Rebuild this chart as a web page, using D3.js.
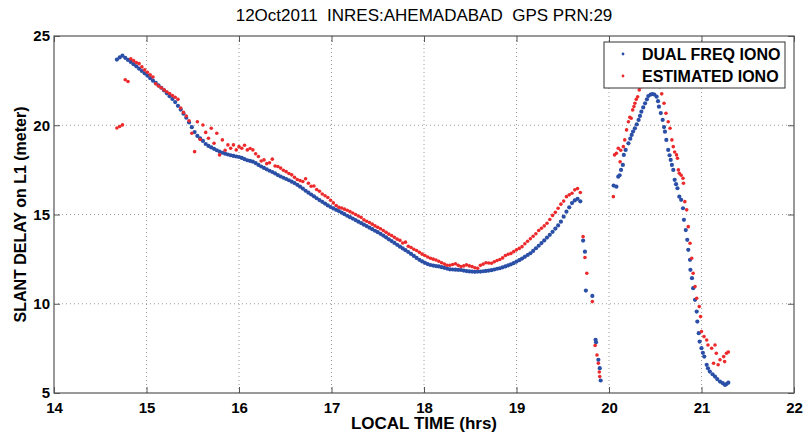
<!DOCTYPE html>
<html>
<head>
<meta charset="utf-8">
<script src="https://cdn.jsdelivr.net/npm/d3@7"></script>
<style>
  body { margin: 0; background: #fff; }
  svg { display: block; font-family: "Liberation Sans", Arial, Helvetica, sans-serif; }
  .tick text { font-size: 15px; font-weight: bold; fill: #000; }
  .tick line { stroke: #555; }
</style>
</head>
<body>
<svg id="chart" width="803" height="434"></svg>
<script>
// Slant ionospheric delay, 12 Oct 2011, Ahmedabad, PRN 29

const title = '12Oct2011  INRES:AHEMADABAD  GPS PRN:29';
const xTicks = [14, 15, 16, 17, 18, 19, 20, 21, 22];
const yTicks = [5, 10, 15, 20, 25];
const seriesNames = ['DUAL FREQ IONO', 'ESTIMATED IONO'];

// common epochs of the long pass (local time, hrs)
const epochs = [
  14.68,14.71,14.74,14.77,14.80,14.83,14.86,14.89,14.92,14.95,
  14.98,15.01,15.04,15.07,15.10,15.13,15.16,15.19,15.22,15.25,
  15.28,15.31,15.34,15.37,15.40,15.43,15.46,15.49,15.52,15.55,
  15.58,15.61,15.64,15.67,15.70,15.73,15.76,15.79,15.82,15.85,
  15.88,15.91,15.94,15.97,16.00,16.03,16.06,16.09,16.12,16.15,
  16.18,16.21,16.24,16.27,16.30,16.33,16.36,16.39,16.42,16.45,
  16.48,16.51,16.54,16.57,16.60,16.63,16.66,16.69,16.72,16.75,
  16.78,16.81,16.84,16.87,16.90,16.93,16.96,16.99,17.02,17.05,
  17.08,17.11,17.14,17.17,17.20,17.23,17.26,17.29,17.32,17.35,
  17.38,17.41,17.44,17.47,17.50,17.53,17.56,17.59,17.62,17.65,
  17.68,17.71,17.74,17.77,17.80,17.83,17.86,17.89,17.92,17.95,
  17.98,18.01,18.04,18.07,18.10,18.13,18.16,18.19,18.22,18.25,
  18.28,18.31,18.34,18.37,18.40,18.43,18.46,18.49,18.52,18.55,
  18.58,18.61,18.64,18.67,18.70,18.73,18.76,18.79,18.82,18.85,
  18.88,18.91,18.94,18.97,19.00,19.03,19.06,19.09,19.12,19.15,
  19.18,19.21,19.24,19.27,19.30,19.33,19.36,19.39,19.42,19.45,
  19.48,19.51,19.54,19.57,19.60,19.63,19.66,19.69
];

// dual frequency slant delay (m) at those epochs
const dualPass = [
  23.68,23.80,23.90,23.78,23.66,23.55,23.42,23.30,23.17,23.04,
  22.91,22.78,22.64,22.50,22.37,22.23,22.10,21.95,21.79,21.63,
  21.47,21.30,21.09,20.88,20.65,20.42,20.16,19.89,19.62,19.40,
  19.26,19.12,18.95,18.84,18.76,18.68,18.60,18.52,18.46,18.41,
  18.36,18.32,18.28,18.25,18.22,18.17,18.10,18.04,18.00,17.96,
  17.88,17.78,17.69,17.61,17.53,17.45,17.38,17.30,17.21,17.13,
  17.06,16.99,16.92,16.84,16.76,16.66,16.56,16.45,16.33,16.22,
  16.12,16.02,15.91,15.81,15.71,15.61,15.51,15.42,15.34,15.26,
  15.19,15.10,15.02,14.93,14.85,14.77,14.69,14.60,14.52,14.43,
  14.35,14.26,14.18,14.09,14.01,13.92,13.82,13.72,13.61,13.51,
  13.41,13.30,13.20,13.10,13.00,12.90,12.79,12.68,12.57,12.46,
  12.37,12.29,12.22,12.17,12.14,12.11,12.09,12.05,12.01,11.97,
  11.93,11.92,11.91,11.90,11.89,11.86,11.83,11.81,11.80,11.79,
  11.80,11.80,11.82,11.84,11.86,11.88,11.92,11.96,11.99,12.04,
  12.09,12.15,12.21,12.28,12.36,12.44,12.53,12.63,12.73,12.83,
  12.96,13.11,13.25,13.40,13.55,13.71,13.86,14.03,14.21,14.39,
  14.60,14.88,15.16,15.40,15.64,15.79,15.88,15.74
];

// estimated slant delay (m) at the same epochs
const estPass = [
  19.85,19.93,20.02,22.55,22.45,23.72,23.62,23.51,23.45,23.27,
  23.10,22.97,22.82,22.70,22.32,22.20,22.10,21.98,21.88,21.78,
  21.66,21.57,21.45,20.97,20.72,20.52,20.25,19.55,18.52,20.20,
  19.20,20.01,19.60,19.27,19.83,18.99,19.55,18.34,19.18,18.60,
  18.90,18.71,18.90,18.62,18.80,18.71,18.88,18.62,18.70,18.62,
  18.40,18.25,18.00,18.06,17.85,17.90,18.10,17.72,17.69,17.60,
  17.48,17.40,17.30,17.22,17.08,16.96,16.90,16.85,17.00,16.75,
  16.58,16.60,16.40,16.30,16.15,16.05,15.95,15.80,15.65,15.50,
  15.40,15.36,15.30,15.24,15.16,15.08,15.00,14.92,14.84,14.70,
  14.62,14.55,14.46,14.36,14.28,14.20,14.10,14.00,13.90,13.82,
  13.72,13.62,13.55,13.40,13.45,13.22,13.15,13.05,12.98,12.88,
  12.78,12.70,12.62,12.55,12.50,12.45,12.38,12.30,12.22,12.16,
  12.16,12.20,12.24,12.15,12.08,12.12,12.18,12.12,12.08,12.02,
  11.99,12.15,12.22,12.30,12.28,12.27,12.35,12.42,12.48,12.57,
  12.70,12.77,12.82,12.92,13.02,13.10,13.20,13.36,13.50,13.64,
  13.78,13.92,14.10,14.23,14.36,14.51,14.72,14.95,15.12,15.35,
  15.58,15.75,16.00,16.10,16.19,16.38,16.45,16.23
];

// after the data gap: [hrs, metres]
const dualTail = [
  [19.72,13.54],[19.74,12.92],[19.75,10.74],[19.82,10.44],[19.855,7.98],[19.86,7.84],
  [19.885,6.86],[19.90,6.39],[19.91,5.70],
  [20.05,16.62],[20.08,16.56],[20.10,17.12],[20.115,17.20],[20.13,17.50],[20.15,17.78],
  [20.16,18.34],[20.18,18.62],[20.21,18.99],[20.23,19.25],[20.245,19.46],[20.26,19.65],
  [20.28,19.83],[20.30,20.05],[20.32,20.30],[20.335,20.52],[20.35,20.76],[20.37,21.00],
  [20.39,21.23],[20.41,21.45],[20.425,21.64],[20.45,21.72],[20.47,21.75],[20.49,21.72],
  [20.515,21.60],[20.53,21.35],[20.54,21.04],[20.56,20.68],[20.58,20.30],[20.595,19.90],
  [20.605,19.64],[20.62,19.18],[20.64,18.62],[20.655,18.32],[20.667,18.06],[20.68,17.78],
  [20.695,17.50],[20.71,16.94],[20.725,16.70],[20.74,16.47],[20.76,16.00],[20.78,15.82],
  [20.80,15.35],[20.81,14.70],[20.83,14.13],[20.846,13.58],[20.857,13.02],[20.876,12.46],
  [20.88,11.90],[20.897,11.43],[20.91,10.87],[20.93,10.22],[20.948,9.56],[20.955,9.00],
  [20.97,8.35],[20.98,7.88],[21.00,7.51],[21.015,7.25],[21.03,7.04],[21.056,6.58],
  [21.07,6.38],[21.09,6.20],[21.12,6.05],[21.146,5.92],[21.17,5.78],[21.20,5.64],
  [21.23,5.55],[21.254,5.45],[21.27,5.50],[21.29,5.58]
];

const estTail = [
  [19.72,13.76],[19.74,12.59],[19.76,11.71],[19.82,10.12],[19.85,7.66],[19.87,7.13],
  [19.885,6.67],[19.895,6.18],[19.90,5.92],
  [20.047,16.00],[20.06,18.34],[20.08,18.43],[20.10,18.71],[20.12,17.95],[20.127,18.60],
  [20.155,18.80],[20.17,19.18],[20.19,19.74],[20.21,20.20],[20.225,20.45],[20.24,20.39],
  [20.256,20.86],[20.27,21.05],[20.28,21.23],[20.295,21.45],[20.31,21.60],[20.327,21.98],
  [20.35,22.16],[20.37,22.30],[20.39,22.45],[20.42,22.60],[20.45,22.70],[20.48,22.70],
  [20.51,22.60],[20.53,22.40],[20.55,22.16],[20.57,21.76],[20.595,21.23],[20.616,20.67],
  [20.64,20.20],[20.66,19.83],[20.68,19.18],[20.695,18.80],[20.71,18.50],[20.73,18.34],
  [20.74,18.15],[20.75,17.50],[20.76,17.31],[20.78,17.20],[20.80,17.03],[20.805,16.75],
  [20.82,15.72],[20.84,15.26],[20.857,14.32],[20.876,13.39],[20.894,12.55],[20.91,11.71],
  [20.93,10.96],[20.948,10.31],[20.976,9.84],[20.99,9.28],[21.00,8.44],[21.027,8.16],
  [21.056,7.97],[21.07,7.69],[21.11,7.51],[21.13,6.67],[21.146,7.69],[21.16,7.23],
  [21.18,6.58],[21.20,6.86],[21.24,7.04],[21.25,6.76],[21.27,7.23],[21.29,7.30]
];

const BLUE = '#2b4fa6';
const RED = '#ec2a2c';
const AXIS = '#555';

const svg = d3.select('#chart');
const x = d3.scaleLinear().domain([14, 22]).range([54, 794]);
const y = d3.scaleLinear().domain([5, 25]).range([393, 36]);
const [x0, x1] = x.range();
const [y1, y0] = y.range();

// dotted grid
const grid = svg.append('g').attr('stroke', '#9a9a9a').attr('stroke-dasharray', '1,3');
grid.selectAll('.gx').data(xTicks.slice(1, -1)).join('line')
  .attr('x1', d => x(d)).attr('x2', d => x(d))
  .attr('y1', y0).attr('y2', y1);
grid.selectAll('.gy').data(yTicks.slice(1, -1)).join('line')
  .attr('x1', x0).attr('x2', x1)
  .attr('y1', d => y(d)).attr('y2', d => y(d));

// axes — ticks pointing in, MATLAB box style
function styleAxis(g) {
  g.select('.domain').remove();
  g.selectAll('.tick line').attr('stroke', AXIS);
}
svg.append('g').attr('transform', `translate(0,${y1})`)
  .call(d3.axisBottom(x).tickValues(xTicks).tickSizeInner(-6).tickSizeOuter(0).tickPadding(9))
  .call(styleAxis);
svg.append('g').attr('transform', `translate(0,${y0})`)
  .call(d3.axisTop(x).tickValues(xTicks).tickSizeInner(-6).tickSizeOuter(0).tickFormat(''))
  .call(styleAxis);
svg.append('g').attr('transform', `translate(${x0},0)`)
  .call(d3.axisLeft(y).tickValues(yTicks).tickSizeInner(-6).tickSizeOuter(0).tickPadding(4))
  .call(styleAxis);
svg.append('g').attr('transform', `translate(${x1},0)`)
  .call(d3.axisRight(y).tickValues(yTicks).tickSizeInner(-6).tickSizeOuter(0).tickFormat(''))
  .call(styleAxis);

svg.append('rect')
  .attr('x', x0).attr('y', y0).attr('width', x1 - x0).attr('height', y1 - y0)
  .attr('fill', 'none').attr('stroke', AXIS).attr('stroke-width', 1.2);

// points
const dualPts = epochs.map((t, i) => [t, dualPass[i]]).concat(dualTail);
const estPts = epochs.map((t, i) => [t, estPass[i]]).concat(estTail);

svg.append('g').attr('fill', BLUE)
  .selectAll('circle').data(dualPts).join('circle')
  .attr('cx', d => x(d[0])).attr('cy', d => y(d[1])).attr('r', 2.1);
svg.append('g').attr('fill', RED)
  .selectAll('circle').data(estPts).join('circle')
  .attr('cx', d => x(d[0])).attr('cy', d => y(d[1])).attr('r', 1.8);

// labels
svg.append('text')
  .attr('x', (x0 + x1) / 2).attr('y', 21)
  .attr('text-anchor', 'middle')
  .style('font-size', '17px').style('white-space', 'pre')
  .text(title);

svg.append('text')
  .attr('x', (x0 + x1) / 2).attr('y', 429)
  .attr('text-anchor', 'middle')
  .style('font-size', '17px').style('font-weight', 'bold')
  .text('LOCAL TIME (hrs)');

svg.append('text')
  .attr('transform', `translate(26,${(y0 + y1) / 2}) rotate(-90)`)
  .attr('text-anchor', 'middle')
  .style('font-size', '16px').style('font-weight', 'bold')
  .text('SLANT DELAY on L1 (meter)');

// legend
const legend = svg.append('g').attr('transform', 'translate(604,42)');
legend.append('rect')
  .attr('width', 181).attr('height', 46)
  .attr('fill', '#fff').attr('stroke', '#333').attr('stroke-width', 1);
const rows = legend.selectAll('.row').data(seriesNames).join('g')
  .attr('transform', (d, i) => `translate(0,${12 + i * 22})`);
rows.append('circle')
  .attr('cx', 19).attr('cy', 0).attr('r', 1.4)
  .attr('fill', (d, i) => i === 0 ? BLUE : RED);
rows.append('text')
  .attr('x', 38).attr('y', 5.5)
  .style('font-size', '16px').style('font-weight', 'bold')
  .text(d => d);
</script>
</body>
</html>
